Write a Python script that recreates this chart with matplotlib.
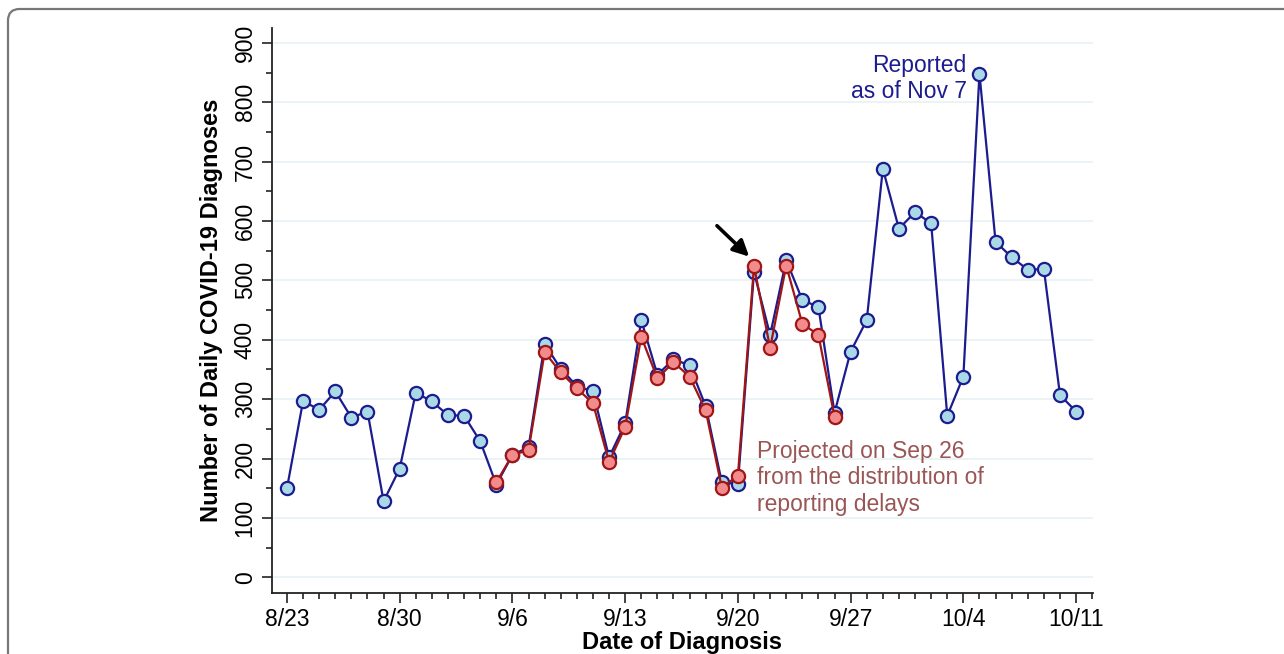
import datetime
import matplotlib.pyplot as plt
import matplotlib.dates as mdates
from matplotlib.patches import FancyBboxPatch
from matplotlib.ticker import MultipleLocator

plt.rcParams['font.family'] = ['Liberation Sans', 'DejaVu Sans']

# daily counts, 8/23 .. 10/11 (reported as of Nov 7)
start = datetime.datetime(2020, 8, 23)
reported = [150, 297, 282, 313, 269, 279, 128, 183, 311, 296, 273, 272, 229,
            156, 206, 219, 393, 351, 322, 313, 202, 259, 433, 341, 367, 357,
            288, 160, 157, 514, 408, 534, 467, 455, 277, 380, 433, 688, 587,
            615, 596, 272, 338, 848, 565, 539, 518, 519, 307, 279]

# projected on Sep 26, 9/5 .. 9/26
proj_start = datetime.datetime(2020, 9, 5)
projected = [160, 206, 214, 379, 345, 318, 293, 194, 253, 405, 335, 362, 338,
             281, 151, 171, 524, 386, 525, 427, 408, 270]

tick_labels = ['8/23', '8/30', '9/6', '9/13', '9/20', '9/27', '10/4', '10/11']


def day(n):
    return start + datetime.timedelta(days=n)


dates_rep = [day(i) for i in range(len(reported))]
dates_proj = [proj_start + datetime.timedelta(days=i) for i in range(len(projected))]

fig = plt.figure(figsize=(12.84, 6.54), dpi=100)
ax = fig.add_axes([272 / 1284, 1 - 592.7 / 654, (1093 - 272) / 1284, (592.7 - 28) / 654])

# rounded frame around the figure
frame = FancyBboxPatch((8 / 1284, -0.2), 1.3, 1.2 - 9 / 654,
                       boxstyle='round,pad=0,rounding_size=0.009',
                       mutation_aspect=1284 / 654,
                       transform=fig.transFigure, fill=False,
                       edgecolor='#777777', linewidth=1.6, clip_on=False)
fig.patches.append(frame)

navy = '#1c1c8f'
ax.plot(dates_rep, reported, color=navy, linewidth=1.6, marker='o',
        markersize=9.5, markerfacecolor='#a9d8e6', markeredgecolor=navy,
        markeredgewidth=1.6, zorder=3)
ax.plot(dates_proj, projected, color='#a01515', linewidth=1.6, marker='o',
        markersize=9.5, markerfacecolor='#f28b8b', markeredgecolor='#a01515',
        markeredgewidth=1.6, zorder=4)

ax.set_ylim(-26, 925)
ax.set_xlim(day(-0.93), day(50.05))

ax.yaxis.set_minor_locator(MultipleLocator(50))
ax.set_yticks(range(0, 901, 100))
ax.set_yticklabels([str(v) for v in range(0, 901, 100)], rotation=90, va='center')

ax.set_xticks([day(7 * i) for i in range(len(tick_labels))])
ax.set_xticklabels(tick_labels)
ax.xaxis.set_minor_locator(mdates.DayLocator())

ax.tick_params(axis='both', which='major', labelsize=16.5, length=7, width=1.2,
               color='#222222', pad=4)
ax.tick_params(axis='both', which='minor', length=4, width=1.2, color='#222222')

ax.grid(axis='y', which='major', color='#e8f3f7', linewidth=1.3)
ax.set_axisbelow(True)
for s in ['top', 'right']:
    ax.spines[s].set_visible(False)
for s in ['left', 'bottom']:
    ax.spines[s].set_linewidth(1.3)
    ax.spines[s].set_color('#222222')

ax.set_ylabel('Number of Daily COVID-19 Diagnoses', fontsize=17,
              fontweight='bold', labelpad=8)
ax.set_xlabel('Date of Diagnosis', fontsize=17, fontweight='bold', labelpad=0)

ax.text(day(42.2), 882, 'Reported\nas of Nov 7',
        color=navy, fontsize=16.5, ha='right', va='top', linespacing=1.2)
ax.text(day(29.2), 232,
        'Projected on Sep 26\nfrom the distribution of\nreporting delays',
        color='#9a5555', fontsize=16.5, ha='left', va='top', linespacing=1.2)

ax.annotate('', xy=(day(28.7), 540), xytext=(day(26.7), 592),
            arrowprops=dict(arrowstyle='-|>', color='black', lw=2.6,
                            mutation_scale=24, shrinkA=0, shrinkB=0))

plt.savefig('out.png', dpi=100)
